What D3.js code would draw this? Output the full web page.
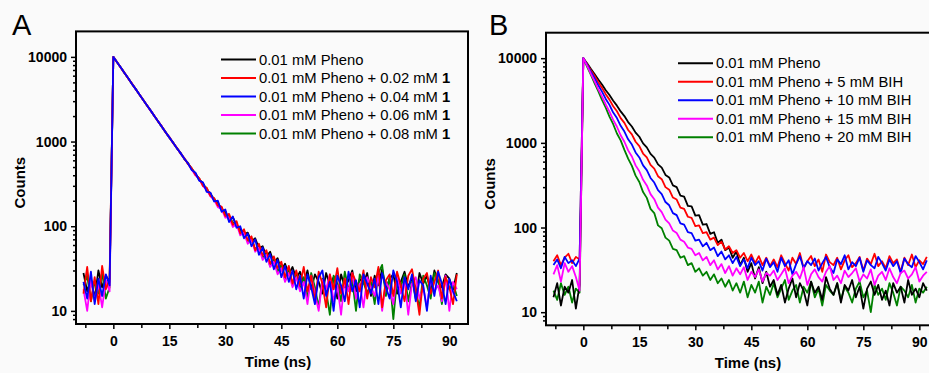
<!DOCTYPE html>
<html>
<head>
<meta charset="utf-8">
<script src="https://cdn.jsdelivr.net/npm/d3@7"></script>
<style>
  html, body { margin: 0; padding: 0; background: #fafafa; }
  svg { display: block; font-family: "Liberation Sans", Arial, sans-serif; }
</style>
</head>
<body>
<div id="chart"></div>
<script>
// TIME CHANNELS (ns)
const times = d3.range(-8, 93);

const xTicks = [0, 15, 30, 45, 60, 75, 90];
const xMinorTicks = [-7.5, 7.5, 22.5, 37.5, 52.5, 67.5, 82.5];
const yTicks = [10, 100, 1000, 10000];

const colors = ["#000000", "#ff0000", "#0000ff", "#ff00ff", "#008000"];

const labelsA = ["0.01 mM Pheno", "0.01 mM Pheno + 0.02 mM", "0.01 mM Pheno + 0.04 mM",
  "0.01 mM Pheno + 0.06 mM", "0.01 mM Pheno + 0.08 mM"];
const boldA = ["", "1", "1", "1", "1"];
const labelsB = ["0.01 mM Pheno", "0.01 mM Pheno + 5 mM BIH", "0.01 mM Pheno + 10 mM BIH",
  "0.01 mM Pheno + 15 mM BIH", "0.01 mM Pheno + 20 mM BIH"];

// PANEL A COUNTS (t = -8 .. 92)
const blackA = [28, 17, 24, 14, 30, 19, 26, 22,
  10000, 8640, 7480, 6430, 5590, 4800, 4170, 3580, 3110, 2670, 2330, 1990, 1740, 1490, 1300, 1110, 980, 830, 740, 620, 560,
  470, 420, 352, 322, 266, 245, 200, 190, 155, 150, 118, 128, 102, 92, 80, 84, 66, 72, 55, 58, 44, 50, 37, 42, 30, 36, 27, 33, 24, 29,
  21, 30, 18, 27, 22, 16, 28, 20, 25, 14, 27, 19, 23, 30, 17, 24, 21, 28, 15, 26, 20, 31, 18, 24, 27, 16, 22, 29, 19, 25, 14, 28, 21, 26, 17, 30, 22, 19, 27, 24, 18, 28];
const redA = [16, 33, 13, 25, 12, 34, 18, 24,
  9950, 8660, 7450, 6470, 5550, 4830, 4140, 3600, 3090, 2690, 2310, 2010, 1720, 1510, 1280, 1130, 960, 850, 720, 640, 540,
  485, 405, 370, 300, 285, 228, 215, 175, 170, 132, 140, 104, 115, 82, 92, 68, 76, 52, 62, 45, 52, 36, 44, 32, 38, 25, 34, 21, 30, 20,
  33, 17, 26, 13, 29, 21, 11, 27, 18, 32, 16, 24, 12, 28, 22, 17, 30, 14, 25, 19, 33, 11, 23, 27, 15, 29, 20, 13, 26, 31, 18, 9, 24, 28, 16, 22, 30, 14, 25, 19, 12, 27];
const blueA = [22, 14, 29, 12, 24, 15, 27, 20,
  10000, 8620, 7490, 6440, 5580, 4790, 4160, 3590, 3100, 2680, 2320, 2000, 1730, 1500, 1290, 1120, 970, 840, 730, 630, 550,
  460, 428, 345, 330, 255, 250, 196, 200, 148, 158, 112, 130, 96, 100, 72, 82, 58, 70, 46, 56, 38, 47, 31, 40, 25, 34, 22, 30, 18, 26,
  14, 27, 19, 12, 25, 30, 15, 22, 10, 26, 20, 13, 29, 17, 23, 11, 27, 21, 16, 24, 12, 28, 19, 14, 30, 22, 11, 25, 18, 27, 13, 23, 20, 10, 26, 15, 29, 21, 12, 24, 17, 13];
const magentaA = [18, 10, 24, 13, 21, 11, 23, 17,
  10000, 8650, 7460, 6450, 5560, 4810, 4150, 3590, 3100, 2680, 2320, 2000, 1730, 1500, 1290, 1120, 970, 840, 730, 630, 550,
  468, 398, 362, 298, 270, 225, 205, 168, 160, 126, 128, 98, 106, 78, 84, 62, 70, 50, 56, 40, 46, 33, 38, 27, 32, 22, 28, 19, 25, 17,
  22, 12, 26, 16, 10, 23, 18, 27, 13, 20, 9, 24, 17, 28, 14, 21, 11, 25, 19, 15, 26, 10, 22, 18, 12, 27, 16, 23, 9, 21, 25, 14, 19, 11, 24, 17, 20, 13, 26, 10, 22, 18];
const greenA = [20, 26, 13, 22, 16, 28, 14, 19,
  10000, 8660, 7470, 6460, 5570, 4800, 4160, 3600, 3090, 2680, 2330, 2000, 1730, 1490, 1290, 1120, 970, 840, 730, 630, 550,
  480, 410, 365, 312, 280, 232, 212, 180, 165, 136, 134, 110, 108, 84, 86, 66, 72, 53, 60, 42, 48, 34, 41, 29, 35, 24, 31, 20, 27, 18,
  25, 14, 28, 19, 11, 24, 17, 9, 26, 21, 13, 29, 18, 23, 10, 27, 22, 16, 22, 12, 28, 35, 15, 25, 8, 24, 19, 27, 13, 22, 17, 11, 26, 20, 14, 28, 23, 12, 25, 18, 21, 15];

// PANEL B COUNTS (t = -8 .. 92)
const blackB = [15, 22, 12, 20, 17, 24, 11, 21,
  10000, 8700, 7480, 6510, 5600, 4890, 4190, 3670, 3140, 2750, 2350, 2070, 1760, 1560, 1320, 1180, 985, 885, 740, 670, 556,
  510, 418, 390, 315, 300, 238, 232, 180, 178, 138, 140, 108, 110, 84, 88, 66, 72, 54, 58, 44, 52, 36, 44, 30, 38, 25, 34, 22, 30, 20,
  24, 16, 21, 13, 19, 25, 15, 22, 18, 12, 23, 17, 20, 14, 26, 19, 16, 22, 13, 21, 18, 24, 15, 20, 11, 19, 23, 16, 21, 14, 18, 12, 22, 17, 20, 13, 24, 16, 19, 15, 22, 18];
const redB = [40, 47, 36, 44, 49, 38, 45, 42,
  10000, 8560, 7220, 6190, 5210, 4480, 3760, 3240, 2710, 2360, 1960, 1720, 1420, 1260, 1030, 915, 748, 672, 548, 496, 404,
  372, 300, 280, 226, 214, 172, 166, 134, 130, 104, 106, 86, 88, 72, 76, 62, 68, 55, 60, 50, 54, 44, 50, 40, 48, 38, 46, 36, 44, 35,
  42, 34, 47, 38, 31, 44, 37, 50, 33, 40, 46, 35, 42, 30, 48, 39, 36, 44, 32, 41, 47, 34, 38, 45, 31, 43, 37, 49, 35, 40, 33, 46, 38, 42, 30, 44, 36, 48, 34, 41, 37, 45];
const blueB = [36, 42, 33, 45, 38, 41, 35, 43,
  10000, 8380, 6910, 5810, 4780, 4030, 3300, 2810, 2280, 1960, 1590, 1360, 1100, 955, 770, 672, 542, 476, 385, 340, 276,
  248, 200, 183, 148, 140, 112, 108, 88, 86, 70, 72, 60, 66, 54, 58, 46, 52, 42, 47, 38, 45, 35, 42, 33, 44, 36, 40, 31, 43, 34,
  39, 30, 44, 35, 41, 28, 37, 46, 33, 40, 36, 43, 31, 38, 45, 34, 29, 42, 37, 47, 32, 39, 35, 44, 30, 41, 36, 33, 45, 38, 31, 42, 35, 40, 29, 43, 37, 34, 46, 39, 32, 41];
const magentaB = [28, 36, 23, 38, 30, 35, 26, 18,
  10000, 8150, 6570, 5370, 4320, 3540, 2840, 2340, 1870, 1550, 1230, 1030, 815, 690, 542, 462, 366, 314, 248, 216, 172,
  152, 124, 112, 92, 86, 72, 68, 58, 56, 47, 50, 41, 45, 36, 41, 32, 37, 29, 35, 27, 33, 28, 34, 24, 30, 26, 32, 23, 29, 27,
  31, 24, 28, 33, 22, 27, 30, 25, 34, 21, 28, 32, 26, 23, 30, 35, 24, 27, 22, 31, 26, 29, 33, 23, 28, 25, 32, 21, 27, 30, 24, 33, 26, 22, 29, 31, 25, 28, 34, 23, 27, 30];
const greenB = [18, 14, 22, 16, 20, 13, 19, 17,
  10000, 7970, 6400, 5060, 4080, 3210, 2600, 2040, 1660, 1290, 1070, 825, 650, 535, 410, 345, 262, 224, 166, 148, 106,
  98, 76, 70, 56, 54, 44, 46, 36, 38, 30, 33, 27, 30, 24, 28, 22, 25, 20, 24, 18, 22, 17, 23, 15, 21, 17, 23, 13, 20, 16,
  22, 15, 19, 24, 14, 18, 21, 13, 20, 17, 23, 15, 19, 12, 21, 18, 16, 22, 14, 20, 17, 13, 19, 23, 15, 18, 10, 21, 16, 19, 14, 22, 17, 12, 20, 18, 15, 21, 13, 19, 17, 20];

const W = 929, H = 373;
const plotW = 392, plotH = 292.6;

const svg = d3.select("#chart").append("svg")
  .attr("width", W).attr("height", H)
  .attr("viewBox", `0 0 ${W} ${H}`);

// SCALES (both panels share the same frame size)
const x = d3.scaleLinear().domain([-10, 95]).range([0, plotW]);
const y = d3.scaleLog().domain([7, 20000]).range([plotH, 0]);

const yMinorTicks = [];
[1, 10, 100, 1000, 10000].forEach((dec) => {
  for (let k = 2; k <= 9; k++) {
    const v = k * dec;
    if (v > 7 && v < 20000) yMinorTicks.push(v);
  }
});

const styleAxis = (sel) => {
  sel.select(".domain").remove();
  sel.selectAll(".tick line").attr("stroke", "#000").attr("stroke-width", 1.5);
  sel.selectAll(".tick text")
    .attr("fill", "#000")
    .attr("font-size", 14)
    .attr("font-weight", "bold")
    .attr("font-family", '"Liberation Sans", Arial, sans-serif');
};

const drawPanel = (p) => {
  const g = svg.append("g").attr("transform", `translate(${p.left},${p.top})`);

  g.append("clipPath").attr("id", "clip" + p.letter)
    .append("rect").attr("width", plotW).attr("height", plotH);

  // DATA LINES
  const line = d3.line().x((d, i) => x(times[i])).y((d) => y(d));
  g.append("g").attr("clip-path", `url(#clip${p.letter})`)
    .selectAll("path")
    .data(p.order)
    .join("path")
    .attr("d", (i) => line(p.series[i]))
    .attr("fill", "none")
    .attr("stroke", (i) => colors[i])
    .attr("stroke-width", 1.8)
    .attr("stroke-linejoin", "round");

  // AXES
  g.append("g").attr("transform", `translate(0,${plotH})`)
    .call(d3.axisBottom(x).tickValues(xMinorTicks).tickSize(4).tickFormat(""))
    .call(styleAxis);
  g.append("g").attr("transform", `translate(0,${plotH})`)
    .call(d3.axisBottom(x).tickValues(xTicks).tickSize(5).tickPadding(7).tickFormat(d3.format("d")))
    .call(styleAxis);
  g.append("g")
    .call(d3.axisLeft(y).tickValues(yMinorTicks).tickSize(3).tickFormat(""))
    .call(styleAxis);
  g.append("g")
    .call(d3.axisLeft(y).tickValues(yTicks).tickSize(5).tickPadding(4).tickFormat(d3.format("d")))
    .call(styleAxis);

  // FRAME
  g.append("rect")
    .attr("width", plotW).attr("height", plotH)
    .attr("fill", "none").attr("stroke", "#000").attr("stroke-width", 2);

  // AXIS TITLES
  g.append("text")
    .attr("x", plotW / 2 + 6).attr("y", plotH + 43)
    .attr("text-anchor", "middle")
    .attr("font-size", 15).attr("font-weight", "bold")
    .text("Time (ns)");
  g.append("text")
    .attr("transform", `translate(-51,${plotH / 2 + 5}) rotate(-90)`)
    .attr("text-anchor", "middle")
    .attr("font-size", 15).attr("font-weight", "bold")
    .text("Counts");

  // PANEL LETTER
  svg.append("text")
    .attr("x", p.letterX).attr("y", 35)
    .attr("font-size", 29)
    .text(p.letter);

  // LEGEND
  const leg = g.append("g").attr("transform", `translate(${p.legX},${p.legY})`);
  const rows = leg.selectAll("g").data(p.labels).join("g")
    .attr("transform", (d, i) => `translate(0,${i * 18.5})`);
  rows.append("line")
    .attr("x1", 0).attr("x2", 35)
    .attr("stroke", (d, i) => colors[i])
    .attr("stroke-width", 2);
  const txt = rows.append("text")
    .attr("x", 38).attr("dy", "0.35em")
    .attr("font-size", 14.8);
  txt.append("tspan").text((d) => d);
  txt.append("tspan")
    .attr("font-weight", "bold")
    .text((d, i) => (p.bold && p.bold[i] ? " " + p.bold[i] : ""));
};

drawPanel({
  letter: "A", letterX: 12, left: 76, top: 31.4,
  series: [blackA, redA, blueA, magentaA, greenA],
  order: [0, 4, 3, 1, 2],
  labels: labelsA, bold: boldA,
  legX: 145, legY: 28
});

drawPanel({
  letter: "B", letterX: 489, left: 546, top: 32.7,
  series: [blackB, redB, blueB, magentaB, greenB],
  order: [4, 0, 1, 2, 3],
  labels: labelsB, bold: null,
  legX: 132, legY: 30.6
});
</script>
</body>
</html>
